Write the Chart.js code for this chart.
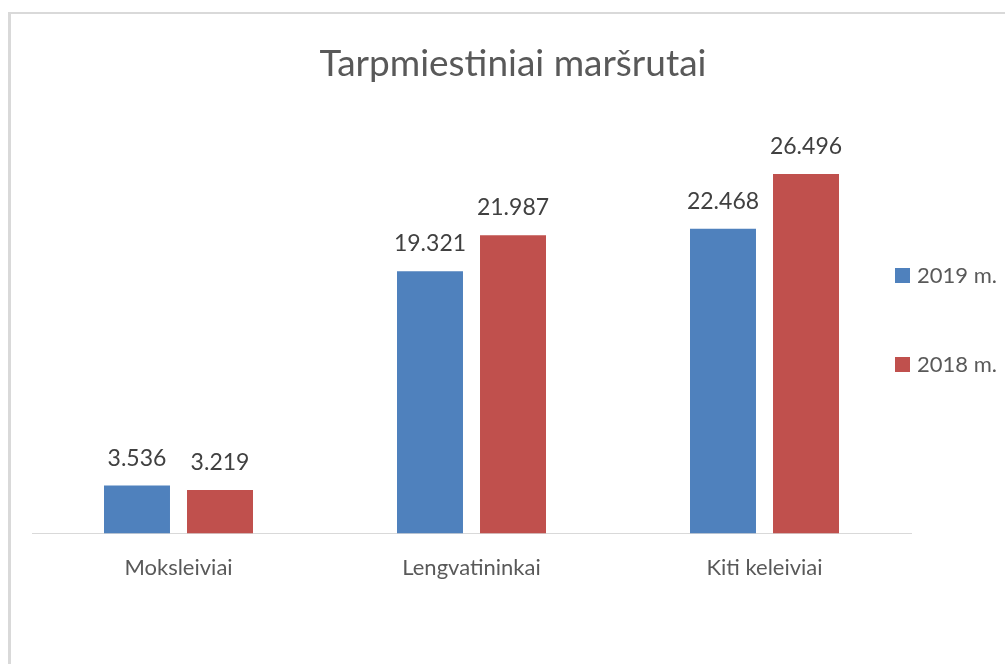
<!DOCTYPE html>
<html>
<head>
<meta charset="utf-8">
<title>Tarpmiestiniai maršrutai</title>
<script src="https://cdn.jsdelivr.net/npm/chart.js@4"></script>
<style>
  html, body { margin: 0; padding: 0; background: #fff; overflow: hidden; }
  #frame { position: absolute; left: 8px; top: 12px; width: 1010px; height: 660px;
           border-left: 3px solid #d9d9d9; border-top: 2px solid #d9d9d9; }
  #wrap { position: relative; width: 1004px; height: 650px; }
</style>
</head>
<body>
<div id="frame"><div id="wrap"><canvas id="chart"></canvas></div></div>
<script>
const categories = ['Moksleiviai', 'Lengvatininkai', 'Kiti keleiviai'];
const seriesNames = ['2019 m.', '2018 m.'];
const values2019 = [3.536, 19.321, 22.468];
const values2018 = [3.219, 21.987, 26.496];
const seriesColors = ['#4F81BD', '#C0504D'];

// value labels above each bar
const valueLabels = {
    id: 'valueLabels',
    afterDatasetsDraw(chart) {
        const ctx = chart.ctx;
        ctx.save();
        ctx.font = '23px Lato';
        ctx.fillStyle = '#404040';
        ctx.textAlign = 'center';
        ctx.textBaseline = 'alphabetic';
        chart.data.datasets.forEach((ds, i) => {
            chart.getDatasetMeta(i).data.forEach((bar, j) => {
                ctx.fillText(ds.data[j].toFixed(3), bar.x, bar.y - 20);
            });
        });
        ctx.restore();
    }
};

// Excel puts the legend a bit over the plot area, nudge it there.
// Text is right aligned, so the right edge sets where it ends.
const legendShift = {
    id: 'legendShift',
    afterLayout(chart) {
        const l = chart.legend;
        l.left -= 83;
        l.right = 986;
        l.top -= 10;
        l.bottom -= 10;
    }
};

const ctx = document.getElementById('chart').getContext('2d');
const chart = new Chart(ctx, {
    type: 'bar',
    data: {
        labels: categories,
        datasets: [
            { label: seriesNames[0], data: values2019, backgroundColor: seriesColors[0] },
            { label: seriesNames[1], data: values2018, backgroundColor: seriesColors[1] }
        ]
    },
    options: {
        responsive: true,
        maintainAspectRatio: false,
        animation: false,
        categoryPercentage: 0.5666,
        barPercentage: 0.795,
        layout: { padding: { left: 0, right: 0, top: 0, bottom: 61 } },
        plugins: {
            title: {
                display: true,
                text: 'Tarpmiestiniai maršrutai',
                color: '#595959',
                font: { family: 'Lato', size: 37, weight: 'normal' },
                padding: { top: 28, bottom: 40 }
            },
            legend: {
                position: 'right',
                fullSize: false,
                maxWidth: 104,
                labels: {
                    boxWidth: 15,
                    boxHeight: 15,
                    padding: 67,
                    textAlign: 'right',
                    color: '#595959',
                    font: { family: 'Lato', size: 22 }
                }
            },
            tooltip: { enabled: false }
        },
        scales: {
            x: {
                grid: { display: false, drawTicks: false, tickLength: 0 },
                border: { display: true, color: '#d9d9d9', width: 1 },
                ticks: { color: '#595959', padding: 21.5, font: { family: 'Lato', size: 22 } }
            },
            y: {
                min: 0,
                max: 30,
                grid: { display: false },
                border: { display: false },
                ticks: { display: false },
                // empty left margin, like the space left of the plot in the original
                afterFit: (scale) => { scale.width = 21; }
            }
        }
    },
    plugins: [valueLabels, legendShift]
});
</script>
</body>
</html>
